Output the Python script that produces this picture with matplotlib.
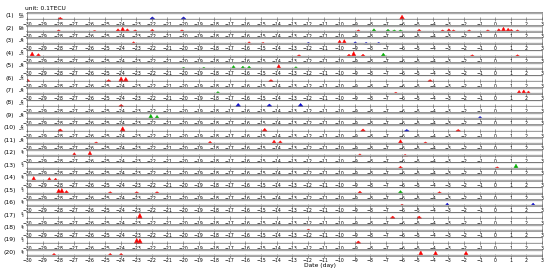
import numpy as np
import matplotlib.pyplot as plt

days = np.arange(-30, 4)

# y tick values (upper bound, lower bound) of each panel
upper = [100, 100] + [50] * 9 + [30] * 9
lower = [-40, -40] + [-25] * 9 + [0] * 9

# anomalies per panel: day, height (fraction of panel), colour
anom_day = [
    [-27.9, -22.0, -20.0, -6.0],
    [-28.0, -25.7, -24.2, -23.9, -23.6, -23.1, -22.0, -20.1, -8.8, -7.8, -6.9, -6.5, -6.1,
     -4.9, -3.4, -3.0, -2.7, -1.7, -0.5, 0.2, 0.5, 0.8, 1.0, 1.4],
    [-23.2, -15.8, -14.9, -12.0, -10.0, -9.7, -9.0, -8.3, -7.5],
    [-29.7, -29.3, -12.6, -9.4, -9.1, -8.5, -7.2, -1.5, 1.4],
    [-20.0, -18.7, -16.8, -16.2, -15.8, -13.9, -12.8],
    [-30.0, -24.8, -24.0, -23.7, -14.4, -4.2],
    [-17.8, -6.4, 1.5, 1.8, 2.1],
    [-24.0, -16.5, -14.5, -12.5],
    [-22.1, -21.7, -1.0],
    [-27.9, -23.9, -14.8, -8.5, -5.7, -2.4],
    [-25.6, -18.3, -14.2, -13.8, -6.1, -4.5],
    [-27.0, -26.0, -8.7, -5.8],
    [-6.1, 0.1, 1.3],
    [-29.6, -28.6, -28.2],
    [-28.0, -27.8, -27.5, -23.0, -24.7, -21.7, -8.7, -6.1, -3.6],
    [-6.0, -3.1, 2.4],
    [-22.8, -6.6, -4.9],
    [-12.0],
    [-23.0, -22.8, -8.8],
    [-28.3, -24.7, -24.0, -4.8, -3.85, -1.9],
]
anom_val = [
    [0.3, 0.4, 0.4, 0.7],
    [0.3, 0.2, 0.5, 0.8, 0.5, 0.3, 0.4, 0.3, 0.3, 0.5, 0.4, 0.3, 0.3,
     0.4, 0.3, 0.5, 0.3, 0.3, 0.3, 0.5, 0.8, 0.6, 0.4, 0.3],
    [0.4, 0.4, 0.3, 0.3, 0.7, 0.8, 0.4, 0.3, 0.3],
    [0.8, 0.5, 0.3, 0.4, 0.9, 0.4, 0.6, 0.3, 0.3],
    [0.3, 0.3, 0.6, 0.5, 0.5, 0.8, 0.4],
    [0.4, 0.3, 0.8, 0.7, 0.3, 0.3],
    [0.4, 0.3, 0.6, 0.7, 0.5],
    [0.3, 0.5, 0.4, 0.5],
    [0.8, 0.6, 0.4],
    [0.4, 0.8, 0.5, 0.4, 0.3, 0.3],
    [0.3, 0.4, 0.6, 0.5, 0.7, 0.3],
    [0.6, 0.9, 0.4, 0.3],
    [0.4, 0.3, 0.8],
    [0.8, 0.6, 0.5],
    [0.8, 0.9, 0.5, 0.3, 0.3, 0.3, 0.4, 0.5, 0.3],
    [0.3, 0.5, 0.5],
    [0.9, 0.4, 0.4],
    [0.3],
    [0.9, 0.8, 0.4],
    [0.4, 0.4, 0.4, 0.9, 0.8, 0.8],
]
anom_col = [
    ['r', 'b', 'b', 'r'],
    ['r'] * 8 + ['r', 'g', 'g', 'g', 'g'] + ['r'] * 11,
    ['r', 'r', 'r', 'b', 'r', 'r', 'b', 'b', 'b'],
    ['r', 'r', 'r', 'r', 'r', 'r', 'g', 'r', 'r'],
    ['g', 'g', 'g', 'g', 'g', 'r', 'g'],
    ['r'] * 6,
    ['g', 'r', 'r', 'r', 'r'],
    ['r', 'b', 'b', 'b'],
    ['g', 'g', 'b'],
    ['r', 'r', 'r', 'r', 'b', 'r'],
    ['r'] * 6,
    ['r'] * 4,
    ['r', 'r', 'g'],
    ['r'] * 3,
    ['r'] * 7 + ['g', 'r'],
    ['r', 'b', 'b'],
    ['r'] * 3,
    ['r'],
    ['r'] * 3,
    ['r'] * 6,
]
colors = {'r': '#ff0000', 'g': '#00b000', 'b': '#0000cc'}

fig = plt.figure(figsize=(5.5, 2.76), dpi=100)
W, H = 550.0, 276.0

for i in range(20):
    top = 12.4 + 12.45 * i
    h = 6.8
    ax = fig.add_axes([27 / W, 1 - (top + h) / H, 515 / W, h / H])
    up, lo = upper[i], lower[i]
    span = up - lo
    ax.set_xlim(-30, 3)
    ax.set_ylim(lo - 0.12 * span, up + 0.12 * span)
    ax.axhline(up, color='#aaaaaa', lw=1.0)
    ax.axhline(lo, color='#aaaaaa', lw=1.0)
    for d, v, c in zip(anom_day[i], anom_val[i], anom_col[i]):
        xs = np.array([d - 0.15, d, d + 0.15])
        ys = lo + np.array([0, v, 0]) * span
        ax.fill_between(xs, lo, ys, color=colors[c], lw=0.3)
    ax.set_xticks(days)
    ax.set_xticklabels([str(d).replace('-', '\u2212') for d in days])
    ax.set_yticks([lo, up])
    ax.tick_params(axis='x', labelsize=3.3, pad=0.4, direction='inout',
                   length=2.6, width=0.4, color='#555555')
    ax.tick_params(axis='y', labelsize=1.9, pad=1.2, length=1.0, width=0.4)
    ylabs = ax.get_yticklabels()
    ylabs[0].set_va('bottom')
    ylabs[1].set_va('top')
    for s in ax.spines.values():
        s.set_linewidth(0.4)
        s.set_color('#555555')
    fig.text(10 / W, 1 - (top + 3.4) / H, '(%d)' % (i + 1), fontsize=4.3,
             ha='center', va='center')

fig.text(25 / W, 1 - 8 / H, 'unit: 0.1TECU', fontsize=4.3, ha='left', va='center')
fig.text(320 / W, 1 - 266 / H, 'Date (day)', fontsize=4.3, ha='center', va='center')

fig.savefig('out.png', dpi=100)
